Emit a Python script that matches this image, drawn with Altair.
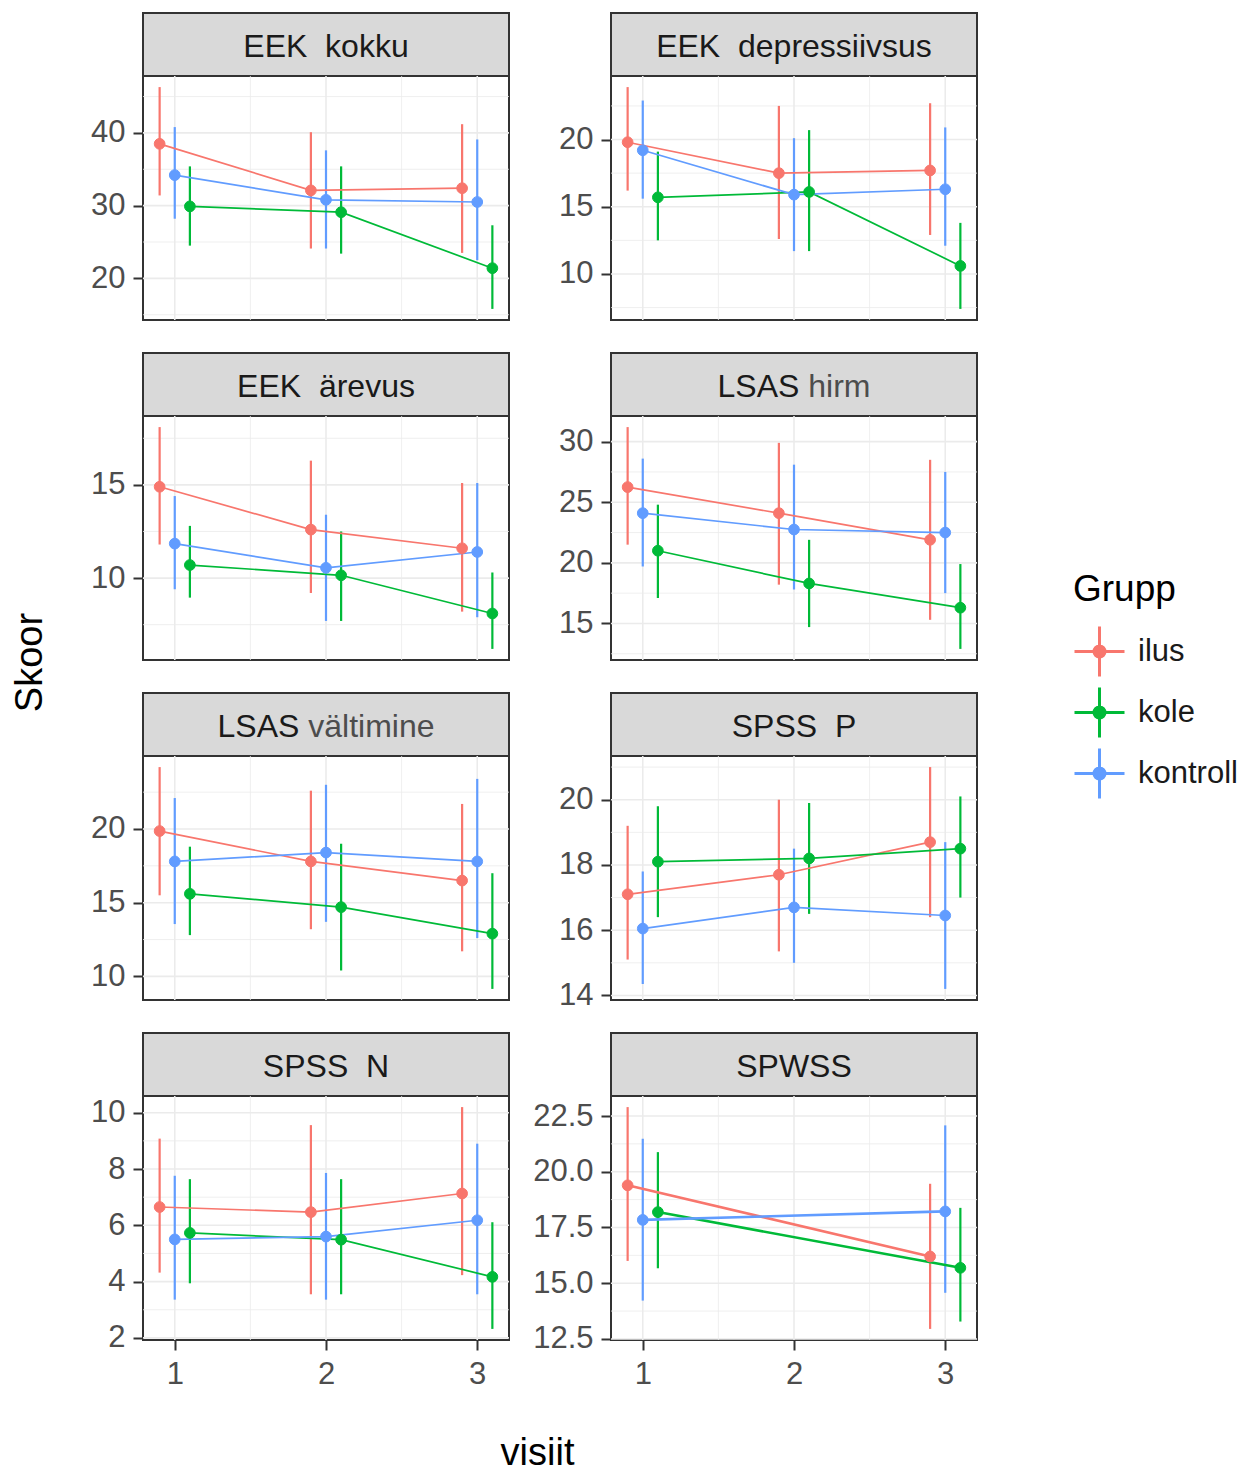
import altair as alt
import pandas as pd

FONT = "Liberation Sans"
GROUPS = ["ilus", "kole", "kontroll"]
COLORS = ["#F8766D", "#00BA38", "#619CFF"]
DODGE = {"ilus": -0.1, "kole": 0.1, "kontroll": 0.0}

NB = "\u00a0\u00a0"
STRIP_MAIN = ["EEK" + NB + "kokku", "EEK" + NB + "depressiivsus", "EEK" + NB + "ärevus",
              "LSAS", "LSAS", "SPSS" + NB + "P", "SPSS" + NB + "N", "SPWSS"]
STRIP_SUB = ["", "", "", "hirm", "vältimine", "", "", ""]

VISITS = [[1, 2, 3]] * 7 + [[1, 3]]

MEAN = {
    "ilus": [[38.5, 32.1, 32.4], [19.8, 17.5, 17.7], [14.9, 12.6, 11.6], [26.25, 24.1, 21.9],
             [19.86, 17.8, 16.5], [17.1, 17.7, 18.7], [6.65, 6.47, 7.13], [19.39, 16.2]],
    "kole": [[29.9, 29.1, 21.4], [15.7, 16.1, 10.6], [10.7, 10.15, 8.1], [21.0, 18.3, 16.3],
             [15.6, 14.7, 12.9], [18.1, 18.2, 18.5], [5.73, 5.49, 4.17], [18.19, 15.69]],
    "kontroll": [[34.2, 30.8, 30.5], [19.2, 15.9, 16.3], [11.85, 10.55, 11.4], [24.1, 22.75, 22.5],
                 [17.8, 18.4, 17.8], [16.05, 16.7, 16.45], [5.5, 5.6, 6.18], [17.84, 18.22]],
}
LO = {
    "ilus": [[31.4, 24.1, 23.5], [16.2, 12.6, 12.9], [11.8, 9.2, 8.2], [21.5, 18.2, 15.3],
             [15.5, 13.2, 11.7], [15.1, 15.35, 16.4], [4.32, 3.55, 4.23], [16.0, 12.95]],
    "kole": [[24.5, 23.4, 15.8], [12.5, 11.7, 7.4], [8.95, 7.7, 6.2], [17.1, 14.7, 12.9],
             [12.8, 10.4, 9.15], [16.4, 16.5, 17.0], [3.94, 3.55, 2.32], [15.67, 13.28]],
    "kontroll": [[28.2, 24.1, 22.5], [15.6, 11.7, 12.1], [9.4, 7.7, 7.9], [19.7, 17.8, 17.5],
                 [13.55, 13.7, 12.6], [14.35, 15.0, 14.2], [3.36, 3.36, 3.55], [14.22, 14.57]],
}
HI = {
    "ilus": [[46.3, 40.1, 41.2], [23.9, 22.5, 22.7], [18.1, 16.3, 15.1], [31.2, 29.9, 28.5],
             [24.2, 22.6, 21.7], [19.2, 20.0, 21.0], [9.08, 9.56, 10.2], [22.9, 19.46]],
    "kole": [[35.4, 35.4, 27.3], [19.1, 20.7, 13.8], [12.8, 12.5, 10.3], [24.8, 21.9, 19.9],
             [18.8, 19.0, 17.0], [19.8, 19.9, 20.1], [7.64, 7.64, 6.11], [20.88, 18.38]],
    "kontroll": [[40.8, 37.6, 39.1], [22.9, 20.1, 20.9], [14.4, 13.4, 15.1], [28.6, 28.1, 27.5],
                 [22.1, 23.0, 23.4], [17.8, 18.5, 18.7], [7.76, 7.86, 8.9], [21.48, 22.08]],
}

Y_TICKS = [[20, 30, 40], [10, 15, 20], [10, 15], [15, 20, 25, 30], [10, 15, 20],
           [14, 16, 18, 20], [2, 4, 6, 8, 10], [12.5, 15.0, 17.5, 20.0, 22.5]]
Y_FORMAT = ["d"] * 7 + [".1f"]
X_TICKS = [1, 2, 3]
X_MINOR = [1.5, 2.5]
X_DOMAIN = [0.79, 3.21]

W = 366
PLOT_H = 244
STRIP_H = 63
GAP = 33
LINE_W = [1.7] * 7 + [2.6]

CHAR_W = {" ": 278, "\u00a0": 278, "E": 667, "K": 667, "k": 500, "o": 556, "u": 556, "d": 556,
          "e": 556, "p": 556, "r": 333, "s": 500, "i": 222, "v": 500, "ä": 556, "L": 556,
          "S": 667, "A": 667, "h": 556, "m": 833, "l": 222, "t": 278, "n": 556, "P": 667,
          "N": 722, "W": 944}
STRIP_FS = 32


def text_w(s, fs):
    return sum(CHAR_W.get(c, 556) for c in s) * fs / 1000.0


color_fill = alt.Scale(domain=GROUPS, range=COLORS)
color_stroke = alt.Scale(domain=GROUPS, range=COLORS)
LEG_PATH = "M-1,0H1M0,-1V1M0.22,0A0.22,0.22,0,1,1,-0.22,0A0.22,0.22,0,1,1,0.22,0Z"


def legend():
    return alt.Legend(title="Grupp", orient="none", legendX=930, legendY=559,
                      symbolType=LEG_PATH, symbolSize=2500, symbolStrokeWidth=3,
                      titleFontSize=37, labelFontSize=31, titleFontWeight="normal",
                      titleColor="#000000", labelColor="#1A1A1A", rowPadding=-2,
                      titlePadding=16, labelOffset=12, padding=0,
                      titleFont=FONT, labelFont=FONT)


def panel_df(i):
    rows = []
    for g in GROUPS:
        for j, v in enumerate(VISITS[i]):
            rows.append({"grp": g, "visit": v, "x": v + DODGE[g],
                         "m": MEAN[g][i][j], "lo": LO[g][i][j], "hi": HI[g][i][j]})
    return pd.DataFrame(rows)


def strip(i):
    h = STRIP_H if i < 2 else STRIP_H + GAP
    top = h - STRIP_H
    main, sub = STRIP_MAIN[i], STRIP_SUB[i]
    wm = text_w(main, STRIP_FS)
    sp = text_w(" ", STRIP_FS)
    total = wm + (sp + text_w(sub, STRIP_FS) if sub else 0)
    start = (W - total) / 2
    texts = [main]
    cols = ["#1A1A1A"]
    xs = [start]
    if sub:
        texts.append(sub)
        cols.append("#4D4D4D")
        xs.append(start + wm + sp)
    df = pd.DataFrame({"t": texts, "c": cols, "px": xs})
    rect = alt.Chart(pd.DataFrame({"a": [0]})).mark_rect(
        fill="#D9D9D9", stroke="#333333", strokeWidth=2
    ).encode(x=alt.value(0), x2=alt.value(W), y=alt.value(top), y2=alt.value(h))
    txt = alt.Chart(df).mark_text(align="left", baseline="middle", fontSize=STRIP_FS,
                                  font=FONT).encode(
        x=alt.X("px:Q", scale=None, axis=None),
        y=alt.value(top + STRIP_H / 2 + 2),
        text="t:N",
        color=alt.Color("c:N", scale=None),
    )
    return alt.layer(rect, txt).properties(width=W, height=h,
                                           view=alt.ViewBackground(stroke="transparent"))


def plot(i):
    df = panel_df(i)
    lo_all = min(df["lo"].min(), df["m"].min())
    hi_all = max(df["hi"].max(), df["m"].max())
    pad = 0.05 * (hi_all - lo_all)
    ydom = [lo_all - pad, hi_all + pad]
    majors = Y_TICKS[i]
    step = majors[1] - majors[0]
    minors = [m - step / 2 for m in majors] + [majors[-1] + step / 2]
    minors = [v for v in minors if ydom[0] <= v <= ydom[1]]

    xs = alt.Scale(domain=X_DOMAIN, nice=False, zero=False)
    ys = alt.Scale(domain=ydom, nice=False, zero=False)

    if i >= 6:
        xkw = dict(values=X_TICKS, format="d", grid=False, domain=False, tickSize=10,
                   tickWidth=2, tickColor="#333333", labelFontSize=31, labelColor="#4D4D4D",
                   labelPadding=9, labelFont=FONT)
        if i == 6:
            xkw.update(title="visiit", titleX=394, titleY=113, titleFontSize=38,
                       titleFontWeight="normal", titleColor="#000000", titleFont=FONT,
                       titleAlign="center", titleBaseline="middle")
        else:
            xkw.update(title=None)
        xaxis = alt.Axis(**xkw)
    else:
        xaxis = None

    ykw = dict(values=majors, format=Y_FORMAT[i], grid=False, domain=False, tickSize=10,
               tickWidth=2, tickColor="#333333", labelFontSize=31, labelColor="#4D4D4D",
               labelPadding=8, labelFont=FONT)
    if i == 2:
        ykw.update(title="Skoor", titleX=-113, titleY=246, titleAngle=270, titleFontSize=38,
                   titleFontWeight="normal", titleColor="#000000", titleFont=FONT,
                   titleAlign="center", titleBaseline="middle")
    else:
        ykw.update(title=None)
    yaxis = alt.Axis(**ykw)

    def X(f):
        return alt.X(f, type="quantitative", scale=xs, axis=xaxis)

    def Y(f):
        return alt.Y(f, type="quantitative", scale=ys, axis=yaxis)

    stroke = alt.Stroke("grp:N", scale=color_stroke, legend=legend())
    fill = alt.Fill("grp:N", scale=color_fill, legend=legend())

    g_ymaj = alt.Chart(pd.DataFrame({"gy": majors})).mark_rule(
        color="#EBEBEB", strokeWidth=1.6).encode(y=Y("gy"))
    g_ymin = alt.Chart(pd.DataFrame({"gy": minors})).mark_rule(
        color="#EBEBEB", strokeWidth=0.8).encode(y=Y("gy"))
    g_xmaj = alt.Chart(pd.DataFrame({"gx": X_TICKS})).mark_rule(
        color="#EBEBEB", strokeWidth=1.6).encode(x=X("gx"))
    g_xmin = alt.Chart(pd.DataFrame({"gx": X_MINOR})).mark_rule(
        color="#EBEBEB", strokeWidth=0.8).encode(x=X("gx"))

    base = alt.Chart(df)
    bars = base.mark_rule(strokeWidth=2.2).encode(x=X("x"), y=Y("lo"), y2="hi", stroke=stroke)
    lines = base.mark_line(strokeWidth=LINE_W[i]).encode(
        x=X("x"), y=Y("m"), stroke=stroke, order="x:Q")
    pts = base.mark_point(filled=True, size=115, opacity=1, strokeWidth=1).encode(
        x=X("x"), y=Y("m"), fill=fill, stroke=stroke)

    return alt.layer(g_ymin, g_ymaj, g_xmin, g_xmaj, bars, lines, pts).properties(
        width=W, height=PLOT_H)


items = []
for r in range(4):
    a, b = 2 * r, 2 * r + 1
    items += [strip(a), strip(b), plot(a), plot(b)]

chart = alt.concat(
    *items, columns=2, spacing=alt.RowColnumber(row=0, column=102),
    bounds="flush", align="each"
).properties(
    padding={"left": 2, "top": 3, "right": 5, "bottom": 5}
).configure_view(
    stroke="#333333", strokeWidth=2
).configure_axis(
    labelFont=FONT, titleFont=FONT
).configure_text(font=FONT)

chart.save("out.html", embed_options={"renderer": "svg", "actions": False})
